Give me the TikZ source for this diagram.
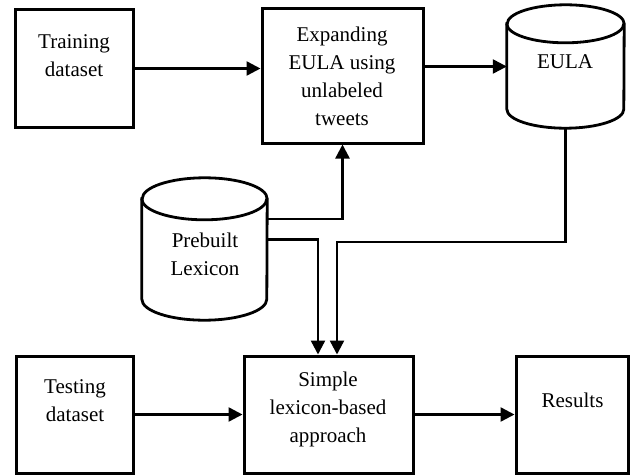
\documentclass[tikz,border=0pt]{standalone}
\usepackage{fontspec}
\setmainfont{Liberation Serif}
\usetikzlibrary{arrows.meta,calc}
\newcommand\drawcyl[3]{%
  \draw[cylline] ($(#1.north west)+(0,-#3)$) -- ($(#1.south west)+(0,#3)$)
    arc[start angle=180,end angle=360,x radius=#2pt,y radius=#3pt]
    -- ($(#1.north east)+(0,-#3)$)
    arc[start angle=0,end angle=180,x radius=#2pt,y radius=#3pt] -- cycle;
  \draw[cylline] ($(#1.north west)+(0,-#3)$)
    arc[start angle=180,end angle=360,x radius=#2pt,y radius=#3pt];}
\begin{document}
\begin{tikzpicture}[x=1pt,y=1pt,
  boxnode/.style={draw,line width=3pt,inner sep=0pt,rectangle},
  cylnode/.style={inner sep=0pt,rectangle},
  cylline/.style={line width=2.8pt},
  lbl/.style={font=\fontsize{21}{28}\selectfont,align=center,anchor=base,inner sep=0pt},
  conn/.style={line width=2.4pt},
  arr/.style={conn,-{Triangle[length=14pt,width=14pt]}}]
\useasboundingbox (0,0) rectangle (634,475);
% nodes
\node[boxnode,minimum width=118pt,minimum height=117pt] (train) at (74,406.5) {};
\node[boxnode,minimum width=161pt,minimum height=134pt] (expand) at (342.5,399) {};
\node[cylnode,minimum width=117pt,minimum height=123pt] (eula) at (565.5,408.5) {};
\node[cylnode,minimum width=125pt,minimum height=142pt] (pre) at (204.5,226) {};
\node[boxnode,minimum width=117pt,minimum height=117pt] (test) at (74.5,60.5) {};
\node[boxnode,minimum width=169pt,minimum height=117pt] (simple) at (328.5,60.5) {};
\node[boxnode,minimum width=112pt,minimum height=117pt] (results) at (572,60.5) {};
\drawcyl{eula}{58.5}{19}
\drawcyl{pre}{62.5}{21}
% labels (base = baseline of last line)
\node[lbl] (ttrain) at (74,399) {Training\\dataset};
\node[lbl] (texpand) at (342,350) {Expanding\\EULA using\\unlabeled\\tweets};
\node[lbl] (teula) at (565,406) {EULA};
\node[lbl] (tpre) at (205,200) {Prebuilt\\Lexicon};
\node[lbl] (ttest) at (75,54) {Testing\\dataset};
\node[lbl] (tsimple) at (328,33) {Simple\\lexicon-based\\approach};
\node[lbl] (tresults) at (572.5,68) {Results};
% connectors
\draw[arr] (train.east) -- (train.east -| expand.west);
\draw[arr] (eula.west -| expand.east) -- (eula.west);
\draw[arr] ($(pre.east)+(0,30)$) -| (expand.south);
\draw[arr] ($(pre.east)+(0,9.5)$) -| ($(simple.north)+(-10.5,0)$);
\draw[arr] (eula.south) -- ++(0,-114) -| ($(simple.north)+(8.5,0)$);
\draw[arr] (test.east) -- (test.east -| simple.west);
\draw[arr] (simple.east) -- (simple.east -| results.west);
\end{tikzpicture}
\end{document}
